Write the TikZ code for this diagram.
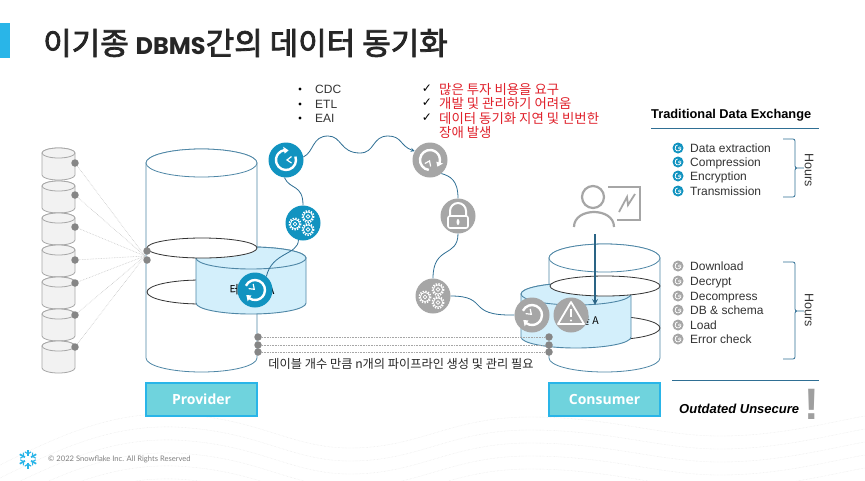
\documentclass[tikz,border=0pt]{standalone}
\usepackage{fontspec}
\usepackage{xcolor}
\setmainfont{Liberation Sans}
\newfontfamily\krfont{Noto Sans CJK KR}
\newfontfamily\krmedium[FakeBold=2.5]{Noto Sans CJK KR}
\newfontfamily\titlefont{Poppins}
\newfontfamily\boxfont{Open Sans}
\newfontfamily\symfont{DejaVu Sans}
\newfontfamily\footfont{Lato}
\definecolor{snowblue}{HTML}{1193C0}
\definecolor{barblue}{HTML}{29B5E8}
\definecolor{icongray}{HTML}{A6A6A6}
\definecolor{edgeblue}{HTML}{4F87A6}
\definecolor{flowblue}{HTML}{2F6F94}
\definecolor{tablefill}{HTML}{D3EFFB}
\definecolor{boxfill}{HTML}{6FD3DD}
\definecolor{redtext}{HTML}{E0202A}
\newcommand{\fs}[1]{\fontsize{#1}{#1}\selectfont}
\newcommand{\dbcyl}[6]{%
  \pgfmathsetmacro{\cylrx}{(#3-#2)/2}
  \path[#1] (#2,#4) -- (#2,#5) arc[start angle=180,end angle=0,x radius=\cylrx,y radius=#6] -- (#3,#4) arc[start angle=360,end angle=180,x radius=\cylrx,y radius=#6] -- cycle;
  \path[#1] ({(#2+#3)/2},#4) ellipse[x radius=\cylrx,y radius=#6];
}
\tikzset{
  bigicon/.style={circle, minimum size=35pt, inner sep=0pt},
  smallicon/.style={circle, minimum size=11pt, inner sep=0pt},
  dotnode/.style={circle, fill=gray!95, minimum size=7.5pt, inner sep=0pt},
  bulletnode/.style={circle, fill=black, minimum size=3.2pt, inner sep=0pt},
  flow/.style={draw=flowblue, line width=0.8pt},
  fanline/.style={draw=gray!45, densely dotted, line width=0.6pt},
  pipeline/.style={draw=gray!70, densely dotted, line width=0.6pt},
  cylmain/.style={draw=edgeblue, line width=0.8pt, fill=white},
  cyltable/.style={draw=edgeblue, line width=0.9pt, fill=tablefill},
  cylsmall/.style={draw=gray!70, line width=0.8pt, fill=gray!10},
  ring/.style={draw=black!80, line width=0.8pt, fill=white},
  rolebox/.style={draw=barblue, line width=1.4pt, fill=boxfill, minimum width=111pt, minimum height=33pt, inner sep=0pt, text=white, font=\boxfont\bfseries\fs{14}},
  listtext/.style={anchor=west, inner sep=0pt, text height=10pt, text depth=2pt, text=black!80, font=\fs{12}},
  redline/.style={anchor=west, inner sep=0pt, text height=12pt, text depth=2pt, text=redtext, font=\krfont\fs{13.4}},
  pics/clockglyph/.style={code={
    \draw[white, line width=2.4pt] (-20:10) arc[start angle=-20,end angle=260,radius=10];
    \fill[white] (258:13.5) -- (258:6.5) -- (285:10) -- cycle;
    \draw[white, line width=1.2pt] (5.5,-3.5) -- (1,0) -- (5.5,3);
  }},
  pics/gearone/.style={code={
    \draw[white, line width=0.8pt] (0,0) circle[radius=4.6];
    \draw[white, line width=1.5pt, dash pattern=on 1.4pt off 1.3pt] (0,0) circle[radius=5.7];
    \draw[white, line width=0.7pt] (0,0) circle[radius=1.8];
  }},
  pics/gearglyph/.style={code={
    \pic at (-8,1) {gearone};
    \pic at (5,-6.5) {gearone};
    \pic at (5,6.5) {gearone};
  }},
  pics/listglyph/.style={code={
    \draw[white, line width=0.8pt] (-20:3) arc[start angle=-20,end angle=260,radius=3];
    \draw[white, line width=0.5pt] (1.8,-1.2) -- (0.3,0) -- (1.8,1);
  }}
}
\begin{document}
\begin{tikzpicture}[x=1pt, y=-1pt, >=stealth]
\useasboundingbox (0,0) rectangle (865,480);
\fill[white] (0,0) rectangle (865,480);
% background waves
\begin{scope}
\clip (0,0) rectangle (865,480);
\foreach \o in {0,13,...,65} {
  \draw[gray!20, densely dotted, line width=0.4pt] (-10,{470+\o}) .. controls (60,{435+\o}) and (110,{412+\o}) .. (175,{414+\o}) .. controls (260,{418+\o}) and (290,{448+\o}) .. (350,{448+\o}) .. controls (420,{448+\o}) and (450,{417+\o}) .. (530,{417+\o}) .. controls (610,{417+\o}) and (660,{436+\o}) .. (720,{436+\o}) .. controls (780,{436+\o}) and (830,{422+\o}) .. (875,{414+\o});
}
\end{scope}
% title
\fill[barblue] (0,23) rectangle (10,58);
\node[anchor=west, inner sep=0pt, text=black!85] (title) at (43,43) {\krmedium\fs{31}이기종 {\titlefont\bfseries\fs{24}DBMS}간의 데이터 동기화};
% source cylinders
\foreach \y/\d [count=\i] in {148/163,181/195,213/227,245/260,277/283,309/315,341/347} {
  \dbcyl{cylsmall}{42}{75}{\y+5}{\y+30-3}{5}
  \node[dotnode] (src\i) at (75,\d) {};
}
% provider
\dbcyl{cylmain}{146}{257}{163}{358}{14}
\draw[ring] (201,292) ellipse[x radius=54,y radius=12];
\dbcyl{cyltable}{196}{306}{258}{303}{11}
\draw[ring] (202,248) ellipse[x radius=55,y radius=10];
\node[inner sep=0pt, font=\krfont\fs{12.5}] (tablea) at (252,290) {테이블 A};
\node[dotnode] (pa) at (147,251) {};
\node[dotnode] (pb) at (147,260) {};
\coordinate (fan) at (145,256);
\foreach \i in {1,...,7} {
  \draw[fanline] (src\i) -- (fan);
}
% consumer
\dbcyl{cylmain}{549}{660}{258}{358}{14}
\draw[ring] (605,328) ellipse[x radius=55,y radius=12];
\dbcyl{cyltable}{521}{631}{294}{337}{11}
\draw[ring] (605,286) ellipse[x radius=55,y radius=10];
\node[anchor=east, inner sep=0pt, font=\krfont\fs{10.5}] (tableb) at (599,321) {테이블 A};
% pipelines
\foreach \y [count=\i] in {337,345,352} {
  \node[dotnode] (out\i) at (258,\y) {};
  \node[dotnode] (in\i) at (549,\y) {};
  \draw[pipeline] (out\i) -- (in\i);
}
\node[inner sep=0pt, text=black!85, font=\krfont\fs{12.2}] (pipetext) at (401,364) {데이블 개수 만큼 n개의 파이프라인 생성 및 관리 필요};
% role boxes
\node[rolebox] (provider) at (201.5,399.5) {Provider};
\node[rolebox] (consumer) at (604.5,399.5) {Consumer};
% icons
\node[bigicon, fill=snowblue] (clocka) at (286,160) {};
\pic at (clocka) {clockglyph};
\node[bigicon, fill=snowblue] (gearsa) at (303,223) {};
\pic at (gearsa) {gearglyph};
\node[bigicon, fill=snowblue] (clockb) at (255,290) {};
\pic[rotate=135] at (clockb) {clockglyph};
\node[bigicon, fill=icongray] (clockc) at (430,160) {};
\pic[rotate=-117] at (clockc) {clockglyph};
\node[bigicon, fill=icongray] (lock) at (458,216) {};
\draw[white, line width=2pt] (450,216) -- (450,211) arc[start angle=180,end angle=360,radius=8] -- (466,216);
\draw[white, line width=1.6pt, rounded corners=2pt, fill=icongray] (448,216) rectangle (468,228);
\fill[white] (458,222) ellipse[x radius=1.5,y radius=3];
\node[bigicon, fill=icongray] (gearsb) at (433,296) {};
\pic at (gearsb) {gearglyph};
\node[bigicon, fill=icongray] (clockd) at (532,315) {};
\pic[rotate=135] at (clockd) {clockglyph};
\node[bigicon, fill=icongray] (warn) at (571,315) {};
\draw[white, line width=1.8pt, line join=round] (571,302) -- (584,324) -- (558,324) -- cycle;
\draw[white, line width=2pt] (571,309) -- (571,317);
\fill[white] (571,320.5) circle[radius=1.2];
% connectors
\draw[flow, ->] (clocka.10) .. controls (314,152) and (312,136) .. (328,136) .. controls (342,136) and (340,153) .. (360,153) .. controls (375,153) and (372,136) .. (388,136) .. controls (402,136) and (400,146) .. (clockc.150);
\draw[flow] (clocka.265) .. controls (290,190) and (303,184) .. (gearsa.north);
\draw[flow] (gearsa.255) .. controls (298,255) and (272,252) .. (clockb.50);
\draw[flow] (clockc.-50) .. controls (450,176) and (458,180) .. (lock.north);
\draw[flow] (lock.south) .. controls (458,258) and (433,245) .. (gearsb.north);
\draw[flow] (gearsb.east) .. controls (490,296) and (465,316) .. (clockd.west);
% person
\draw[icongray, line width=2.2pt] (593,197) circle[radius=11];
\draw[icongray, line width=2.2pt] (574,227) .. controls (574,207) and (614,207) .. (614,227);
\draw[icongray, line width=1.8pt] (608,187) -- (640,187) -- (640,220) -- (617,220);
\draw[icongray, line width=1.8pt] (619,212) -- (627,197) -- (628,205) -- (635,194);
\coordinate (persond) at (595,234);
\coordinate (tablein) at (595,305);
\draw[->, draw=flowblue!90!black, line width=1.6pt] (persond) -- (tablein);
% tool list
\foreach \y/\t [count=\i] in {89/CDC,104/ETL,118/EAI} {
  \node[bulletnode] (toolb\i) at (300,\y) {};
  \node[listtext] (tool\i) at (315,\y) {\t};
}
% drawbacks
\foreach \y/\t [count=\i] in {89/많은 투자 비용을 요구,103/개발 및 관리하기 어려움,118/데이터 동기화 지연 및 빈번한} {
  \node[inner sep=0pt, font=\symfont\fs{12}] (chk\i) at (427,\y) {✓};
  \node[redline] (bad\i) at (439,\y) {\t};
}
\node[redline] (bad4) at (439,132.5) {장애 발생};
% right panel
\node[anchor=west, inner sep=0pt, font=\bfseries\fs{12.8}] (panelhead) at (651,115) {Traditional Data Exchange};
\coordinate (rulea) at (651,128);
\coordinate (ruleb) at (819,128);
\draw[flowblue, line width=0.8pt] (rulea) -- (ruleb);
\foreach \y/\t [count=\i] in {148/Data extraction,162/Compression,176/Encryption,191/Transmission} {
  \node[smallicon, fill=snowblue] (upi\i) at (678,\y) {};
  \pic at (upi\i) {listglyph};
  \node[listtext] (upt\i) at (690,\y) {\t};
}
\foreach \y/\t [count=\i] in {266/Download,281/Decrypt,296/Decompress,310/DB \& schema,325/Load,339/Error check} {
  \node[smallicon, fill=icongray] (loi\i) at (678,\y) {};
  \pic at (loi\i) {listglyph};
  \node[listtext] (lot\i) at (690,\y) {\t};
}
\draw[flow, rounded corners=2pt] (783,139) -- (795,139) -- (795,168) -- (805,168) -- (795,168) -- (795,197) -- (783,197);
\draw[flow, rounded corners=2pt] (783,262) -- (795,262) -- (795,311) -- (805,311) -- (795,311) -- (795,359) -- (783,359);
\node[rotate=-90, inner sep=0pt, text=black!80, font=\fs{12.5}] (hoursa) at (809,170) {Hours};
\node[rotate=-90, inner sep=0pt, text=black!80, font=\fs{12.5}] (hoursb) at (809,310) {Hours};
\coordinate (rulec) at (672,380);
\coordinate (ruled) at (819,380);
\draw[flowblue, line width=0.8pt] (rulec) -- (ruled);
\node[anchor=west, inner sep=0pt, font=\bfseries\itshape\fs{13}] (outdated) at (679,409) {Outdated Unsecure};
\node[inner sep=0pt, text=gray!75, font=\bfseries\fs{44}] (bang) at (812,404) {!};
% footer
\coordinate (flake) at (28,459);
\begin{scope}[shift={(flake)}]
\foreach \a in {30,90,...,330} {
  \draw[barblue, line width=1.7pt] (\a:3.5) -- (\a:9.5);
  \draw[barblue, line width=1.1pt] ({\a-24}:7.8) -- (\a:5.2) -- ({\a+24}:7.8);
}
\end{scope}
\node[anchor=west, inner sep=0pt, text=gray, font=\footfont\fs{7.6}] (copyright) at (48,459) {© 2022 Snowflake Inc. All Rights Reserved};
\end{tikzpicture}
\end{document}
